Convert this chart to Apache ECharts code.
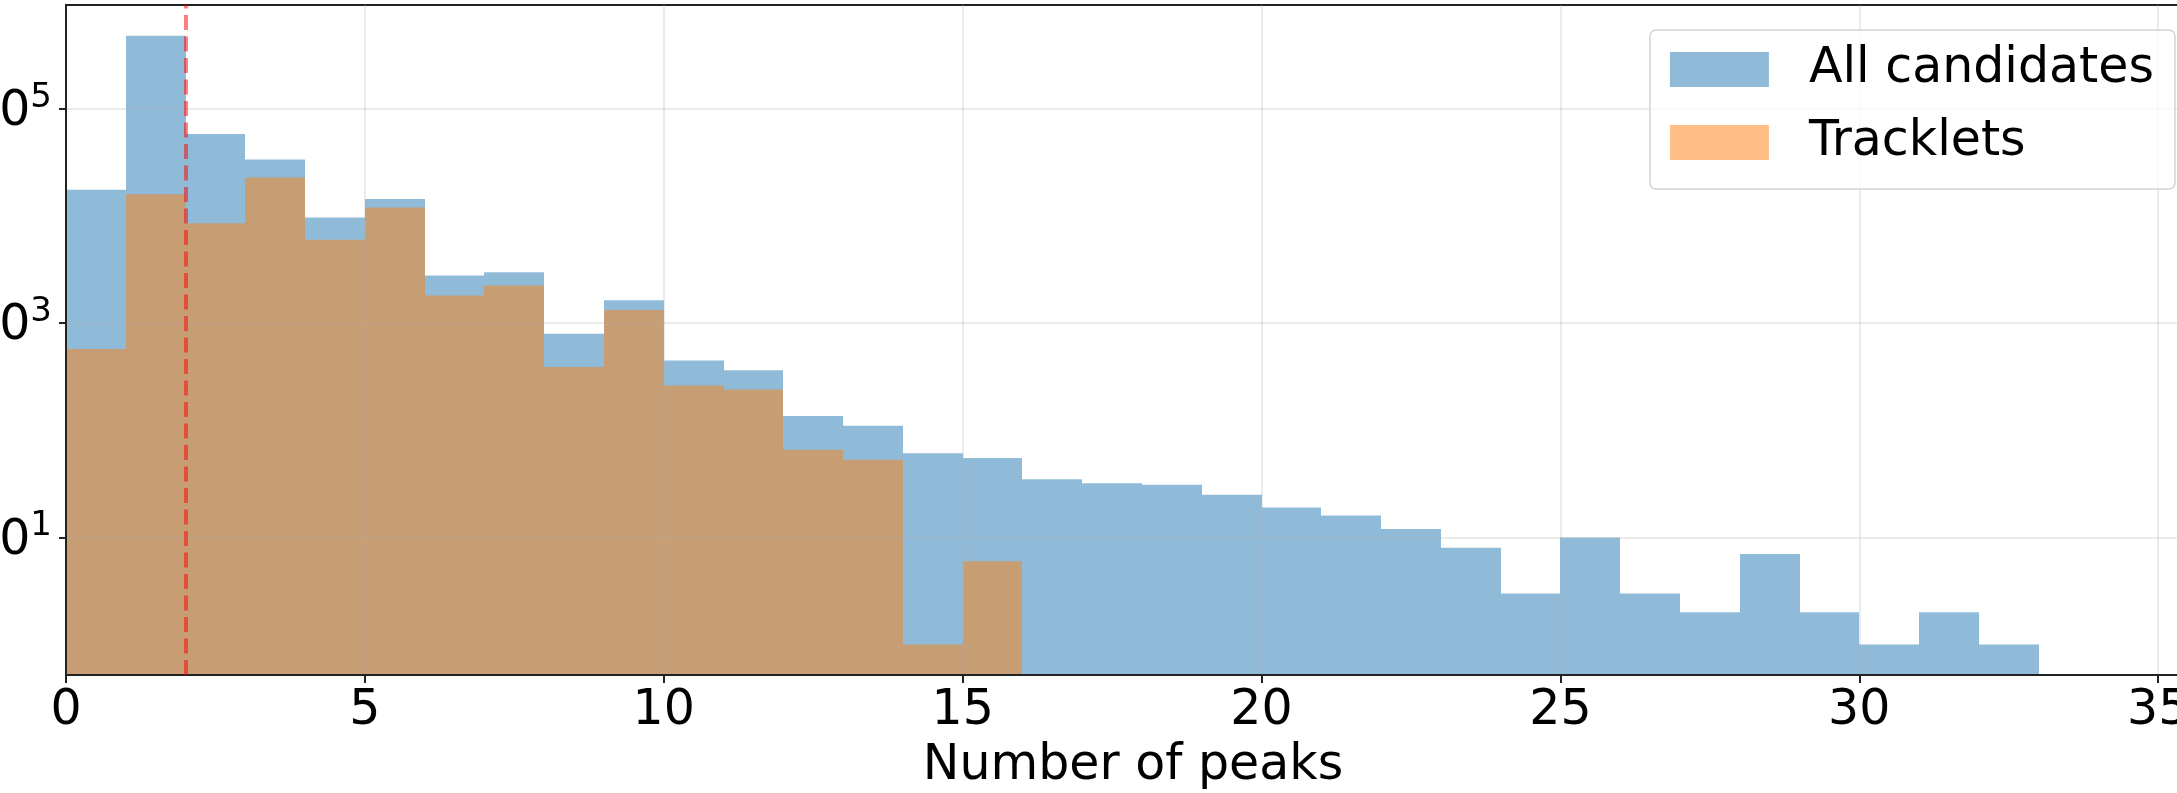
<!DOCTYPE html>
<html>
<head>
<meta charset="utf-8">
<script src="https://cdn.jsdelivr.net/npm/echarts@6/dist/echarts.min.js"></script>
<style>
  html, body { margin: 0; padding: 0; background: #fff; }
  #chart { width: 2177px; height: 793px; }
</style>
</head>
<body>
<div id="chart"></div>
<script>
// histogram counts per 1-wide bin, starting at 0 peaks
const allCounts = [17550, 483000, 58450, 33650, 9680, 14460, 2786, 2990, 796, 1641, 449, 363, 136, 110, 61, 55,
  35, 32, 31, 25, 19, 16, 12, 8, 3, 10, 3, 2, 7, 2, 1, 2, 1]
const trackletCounts = [573, 16000, 8580, 22860, 6000, 12000, 1813, 2250, 389, 1324, 262, 241, 66, 53, 1, 6]
const yTicks = [10, 1000, 100000]
const threshold = 2

const X_MAX = 35.7
const Y_MIN = 0.52
const Y_MAX = 933000
const FONT = 'DejaVu Sans'

const toBins = counts => counts.map((c, i) => [i, i + 1, c])

const renderHist = (params, api) => {
  const lo = api.coord([api.value(0), Y_MIN])
  const hi = api.coord([api.value(1), api.value(2)])
  const x0 = Math.round(lo[0])
  const x1 = Math.round(hi[0])
  return {
    type: 'rect',
    shape: { x: x0, y: hi[1], width: x1 - x0, height: lo[1] - hi[1] },
    style: api.style()
  }
}

const gridLine = { show: true, lineStyle: { color: 'rgba(176,176,176,0.25)', width: 2 } }
const spine = { show: true, onZero: false, lineStyle: { color: '#222', width: 2 } }

const chart = echarts.init(document.getElementById('chart'))
chart.setOption({
  animation: false,
  grid: {
    left: 66, right: -23, top: 5, bottom: 118,
    outerBoundsMode: 'none',
    containLabel: false,
    show: true, borderColor: '#222', borderWidth: 2, backgroundColor: 'transparent'
  },
  legend: {
    orient: 'vertical',
    right: 2,
    top: 30,
    icon: 'rect',
    itemWidth: 99,
    itemHeight: 35,
    itemGap: 24,
    padding: [15, 21, 22, 20],
    backgroundColor: 'rgba(255,255,255,0.8)',
    borderColor: '#d4d4d4',
    borderWidth: 1.5,
    borderRadius: 6,
    textStyle: { fontFamily: FONT, fontSize: 49, color: '#000', padding: [0, 0, 0, 35] },
    data: ['All candidates', 'Tracklets']
  },
  xAxis: {
    type: 'value',
    min: 0,
    max: X_MAX,
    interval: 5,
    z: 3,
    name: 'Number of peaks',
    nameLocation: 'middle',
    nameGap: 67,
    nameTextStyle: { fontFamily: FONT, fontSize: 49, color: '#000' },
    axisLine: spine,
    axisTick: { show: true, length: 8, lineStyle: { color: '#222', width: 2 } },
    axisLabel: { fontFamily: FONT, fontSize: 49, color: '#000', margin: 12, showMaxLabel: false, hideOverlap: false },
    splitLine: gridLine
  },
  yAxis: {
    type: 'log',
    logBase: 10,
    min: Y_MIN,
    max: Y_MAX,
    z: 3,
    axisLine: spine,
    axisTick: { show: true, length: 7, customValues: yTicks, lineStyle: { color: '#222', width: 2 } },
    axisLabel: {
      customValues: yTicks,
      margin: 14,
      formatter: v => '{b|10}{s|' + Math.round(Math.log10(v)) + '}',
      rich: {
        b: { fontFamily: FONT, fontSize: 49, color: '#000', lineHeight: 56, verticalAlign: 'bottom' },
        s: { fontFamily: FONT, fontSize: 34, color: '#000', lineHeight: 34, verticalAlign: 'top' }
      }
    },
    splitLine: gridLine
  },
  series: [
    {
      name: 'All candidates',
      type: 'custom',
      renderItem: renderHist,
      itemStyle: { color: 'rgba(31,119,180,0.5)' },
      encode: { x: [0, 1], y: 2 },
      data: toBins(allCounts)
    },
    {
      name: 'Tracklets',
      type: 'custom',
      renderItem: renderHist,
      itemStyle: { color: 'rgba(255,127,14,0.5)' },
      encode: { x: [0, 1], y: 2 },
      data: toBins(trackletCounts),
      markLine: {
        silent: true,
        symbol: 'none',
        label: { show: false },
        lineStyle: { color: 'rgba(255,0,0,0.5)', width: 4, type: [15, 6.5] },
        data: [{ xAxis: threshold }]
      }
    }
  ]
})
</script>
</body>
</html>
